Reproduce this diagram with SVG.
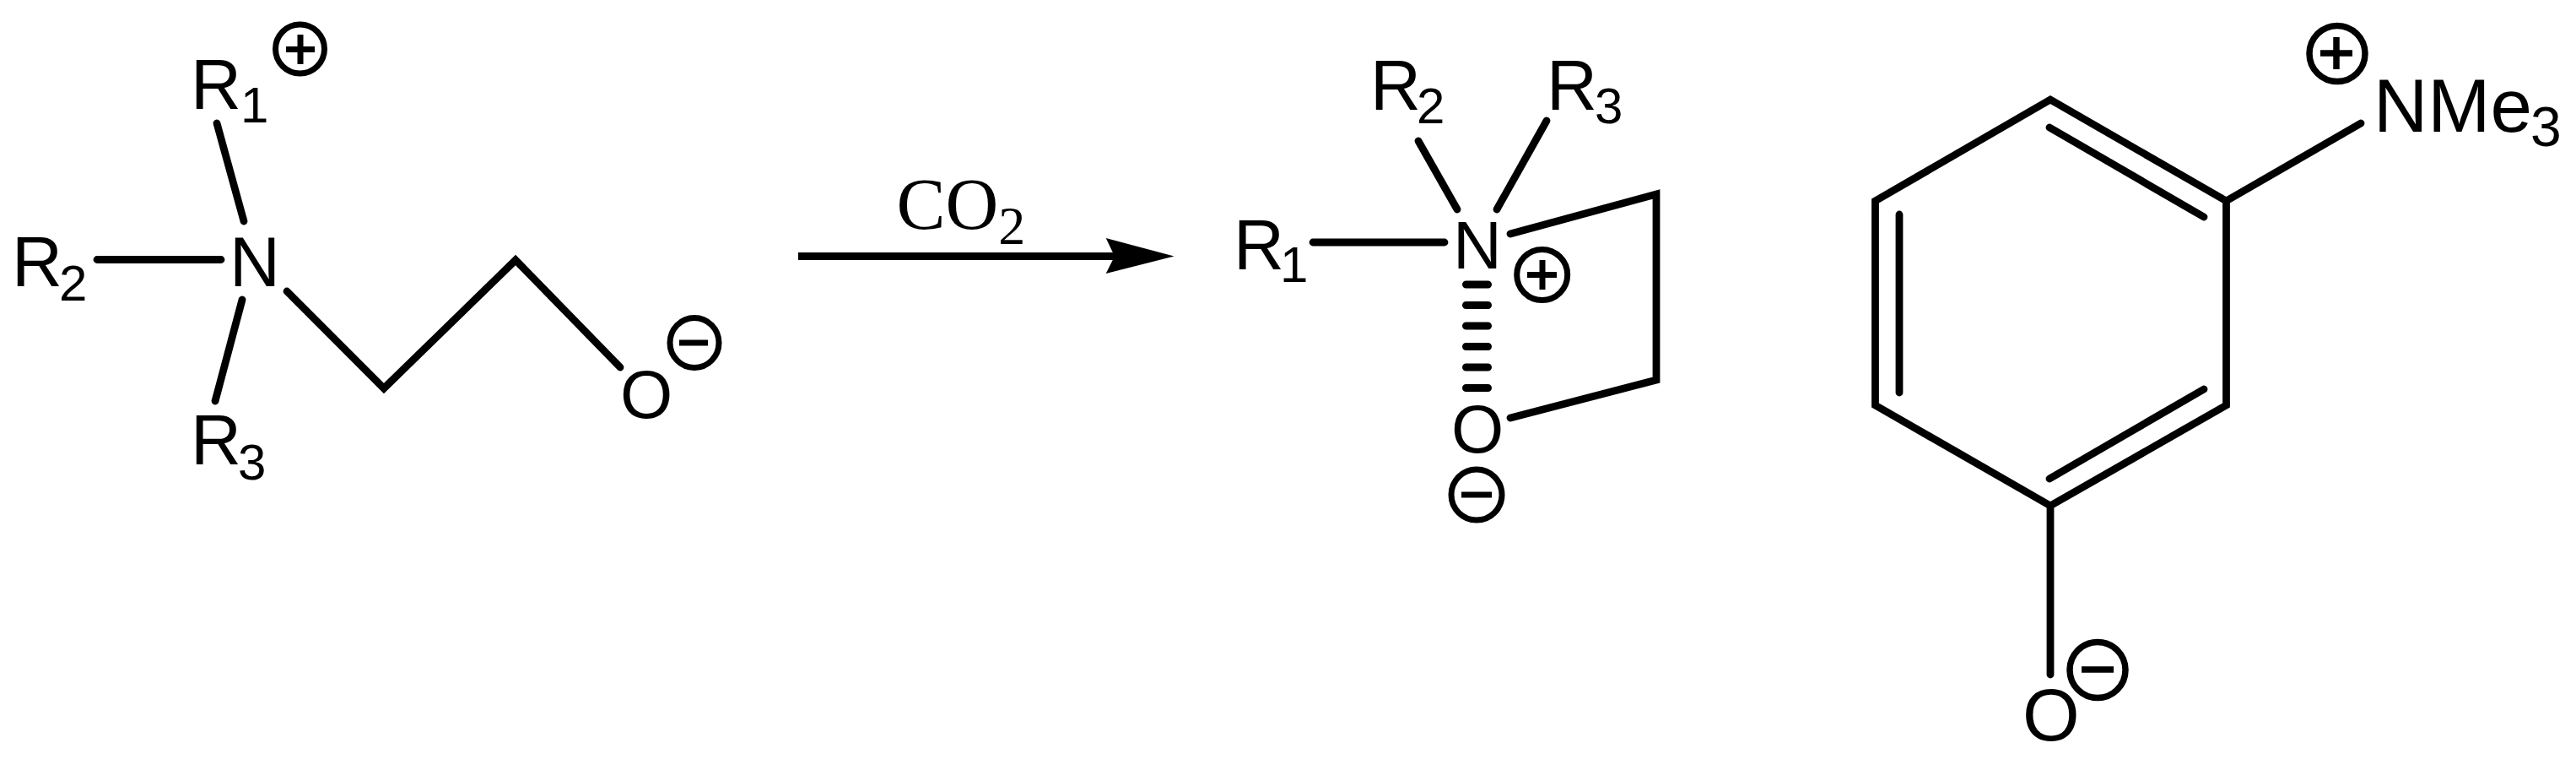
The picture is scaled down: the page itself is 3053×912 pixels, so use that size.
<svg xmlns="http://www.w3.org/2000/svg" width="3053" height="912" viewBox="0 0 3053 912">
<style>
.a{font-family:"Liberation Sans",Arial,sans-serif;font-size:83px;fill:#000}
.o{font-size:80px}
.b{font-size:89px}
.q{font-size:87px}
.s{font-size:60px}
.s2{font-size:66px}
.t{font-family:"Liberation Serif","Times New Roman",serif;font-size:87px;fill:#000}
.ts{font-size:64px}
.l{fill:none;stroke:#000;stroke-width:8.8;stroke-linecap:round;stroke-linejoin:miter}
.c{fill:none;stroke:#000;stroke-width:7}
.g{fill:none;stroke:#000;stroke-width:7.5}
</style>
<rect width="3053" height="912" fill="#fff"/>
<g id="connectors">
<path class="l" d="M257 146L289 262M115 307.500H262M287 355L255 475M340 345L455 460L611 308L735 435"/>
<path class="l" d="M1556 287H1712M1681 167L1727 248M1833 143L1774 248M1790 277L1963 230V450L1790 495"/>
<path d="M1737.500 337H1763.500M1737.500 361.500H1763.500M1737.500 386H1763.500M1737.500 410.500H1763.500M1737.500 435H1763.500M1737.500 459.500H1763.500" fill="none" stroke="#000" stroke-width="9" stroke-linecap="round"/>
<path d="M2430 118L2638.500 238V480L2430 599L2222.500 480V238ZM2429 151L2612 257M2251 254V465M2429 567L2612 461M2638.500 238L2798 146M2430 599V799" class="l"/>
<path d="M946 303.500H1322" fill="none" stroke="#000" stroke-width="9"/>
<path d="M1391.500 303.500L1310.700 282L1321 303.500L1310.700 324Z" fill="#000"/>
</g>
<g id="n-r1"><text class="a" x="226" y="129">R<tspan class="s" dx="-1" dy="16">1</tspan></text></g>
<g id="n-r2"><text class="a" x="14" y="339">R<tspan class="s" dx="-4" dy="17">2</tspan></text></g>
<g id="n-r3"><text class="a" x="226" y="550">R<tspan class="s" dx="-4" dy="18">3</tspan></text></g>
<g id="n-n"><text class="a" x="272" y="339">N</text></g>
<g id="n-o"><text class="a o" x="735" y="495">O</text></g>
<g id="n-plus1"><circle class="c" cx="355.500" cy="58" r="29"/><path class="c" d="M339 58.500H373M356 41V76"/></g>
<g id="n-minus1"><ellipse class="c" cx="823" cy="406" rx="29" ry="29.500"/><path class="c" d="M805 406H839"/></g>
<g id="label-co2"><text class="t" x="1062.500" y="270.500">CO<tspan class="ts" dy="18.500">2</tspan></text></g>
<g id="p-r1"><text class="a" x="1462" y="319">R<tspan class="s" dx="-5" dy="15">1</tspan></text></g>
<g id="p-r2"><text class="a" x="1624" y="130">R<tspan class="s" dx="-5" dy="16">2</tspan></text></g>
<g id="p-r3"><text class="a" x="1833" y="130">R<tspan class="s" dx="-3" dy="16">3</tspan></text></g>
<g id="p-n"><text class="a o" x="1722" y="318">N</text></g>
<g id="p-o"><text class="a o" x="1720" y="536">O</text></g>
<g id="p-plus"><circle class="c" cx="1827.700" cy="325.500" r="30"/><path class="c" d="M1810 325.500H1845M1828 308V343"/></g>
<g id="p-minus"><circle class="c" cx="1750" cy="586" r="30"/><path class="c" d="M1732 586H1768"/></g>
<g id="q-nme3"><text class="a b" x="2813" y="156">NMe<tspan class="s2" dx="-2" dy="17">3</tspan></text></g>
<g id="q-o"><text class="a q" x="2397" y="877">O</text></g>
<g id="q-plus"><circle class="g" cx="2770" cy="63.500" r="33"/><path class="g" d="M2750 63H2788M2769 44V82"/></g>
<g id="q-minus"><circle class="g" cx="2486" cy="793.500" r="33"/><path class="g" d="M2467 793H2505"/></g>
</svg>
